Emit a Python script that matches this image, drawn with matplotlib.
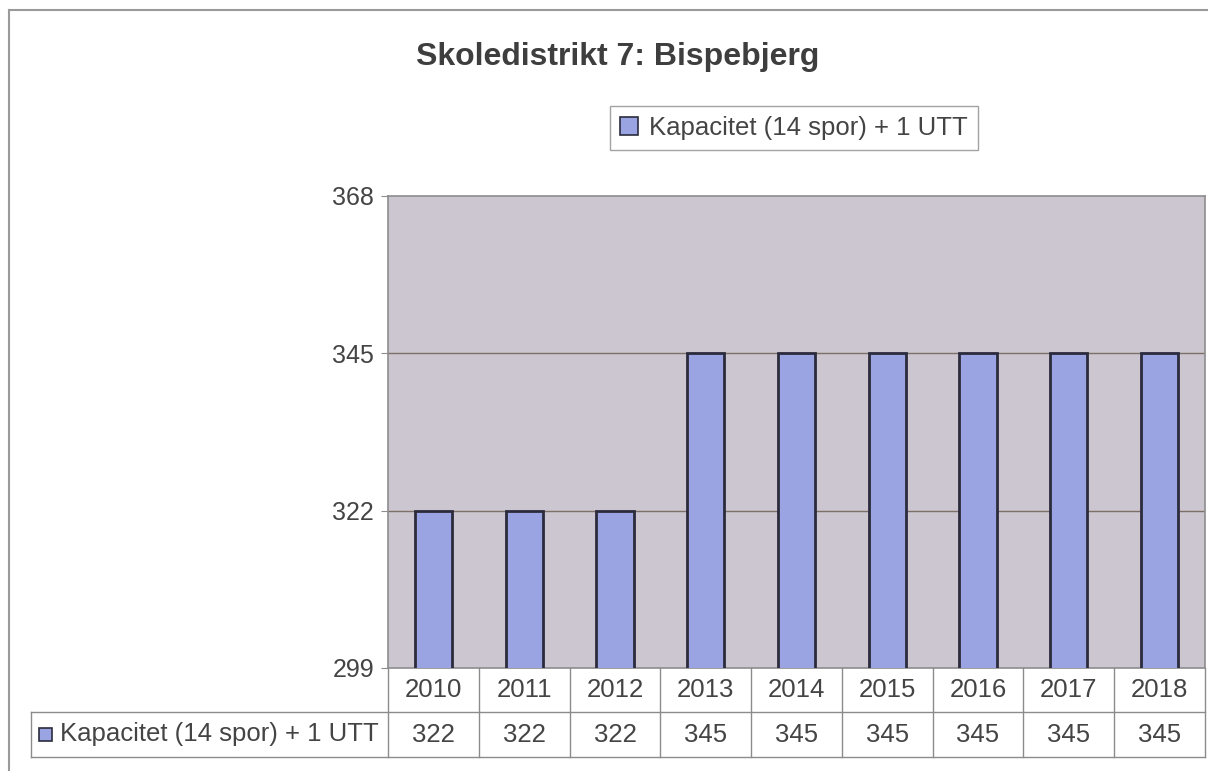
import matplotlib.pyplot as plt
from matplotlib.patches import Rectangle
from matplotlib.lines import Line2D
import matplotlib.transforms as mtransforms

plt.rcParams['font.family'] = ['Liberation Sans', 'DejaVu Sans']

years = ['2010', '2011', '2012', '2013', '2014', '2015', '2016', '2017', '2018']
kapacitet = [322, 322, 322, 345, 345, 345, 345, 345, 345]
series_name = 'Kapacitet (14 spor) + 1 UTT'
yticks = [299, 322, 345, 368]

bar_color = '#9aa4e2'
edge_color = '#2b2b3d'
bg_color = '#cbc6cf'
text_color = '#444444'
line_gray = '#8c8c8c'
fs = 18.5

fig = plt.figure(figsize=(12.08, 7.71), dpi=100)
ax = fig.add_axes([388 / 1208, 1 - 668 / 771, (1205 - 388) / 1208, (668 - 196) / 771])
ax.set_facecolor(bg_color)

x = range(len(years))
ax.bar(x, kapacitet, width=0.41, color=bar_color, edgecolor=edge_color, linewidth=2, zorder=3,
       label=series_name)

ax.set_xlim(-0.5, len(years) - 0.5)
ax.set_ylim(yticks[0], yticks[-1])
ax.set_yticks(yticks)
ax.set_xticks([])
ax.tick_params(axis='y', length=5, color=line_gray, labelsize=18, labelcolor=text_color, pad=5)
for g in yticks[1:-1]:
    ax.axhline(g, color='#7d7068', linewidth=1, zorder=1)
for side in ['top', 'right', 'left', 'bottom']:
    ax.spines[side].set_color(line_gray)
    ax.spines[side].set_linewidth(1.2)

# data table under the chart
trans = mtransforms.blended_transform_factory(ax.transData, ax.transAxes)
row1 = -44 / 472
row2 = -89 / 472
for i in range(len(years) + 1):
    ax.add_line(Line2D([i - 0.5, i - 0.5], [0, row2], transform=trans, color=line_gray,
                       linewidth=1, clip_on=False))
ax.add_line(Line2D([-0.437, 1], [row1, row1], transform=ax.transAxes, color=line_gray,
                   linewidth=1, clip_on=False))
ax.add_line(Line2D([-0.437, 1], [row2, row2], transform=ax.transAxes, color=line_gray,
                   linewidth=1, clip_on=False))
ax.add_line(Line2D([-0.437, -0.437], [row1, row2], transform=ax.transAxes, color=line_gray,
                   linewidth=1, clip_on=False))
for i, (yr, v) in enumerate(zip(years, kapacitet)):
    ax.text(i, row1 / 2, yr, transform=trans, ha='center', va='center', fontsize=fs,
            color=text_color)
    ax.text(i, (row1 + row2) / 2, str(v), transform=trans, ha='center', va='center',
            fontsize=fs, color=text_color)
ax.add_patch(Rectangle((-0.427, (row1 + row2) / 2 - 0.0138), 0.0159, 0.0276,
                       transform=ax.transAxes, facecolor=bar_color, edgecolor=edge_color,
                       linewidth=1.2, clip_on=False))
ax.text(-0.402, (row1 + row2) / 2, series_name, transform=ax.transAxes, ha='left',
        va='center', fontsize=fs, color=text_color)

# title and legend
fig.text(618 / 1208, 1 - 57 / 771, 'Skoledistrikt 7: Bispebjerg', ha='center', va='center',
         fontsize=23, fontweight='bold', color='#3e3e3e')
leg = fig.legend(loc='center', bbox_to_anchor=(794 / 1208, 1 - 128 / 771), fontsize=fs,
                 frameon=True, fancybox=False, handlelength=0.7, handleheight=0.7,
                 handletextpad=0.4, borderpad=0.4, borderaxespad=0, labelcolor=text_color)
leg.get_frame().set_edgecolor(line_gray)
leg.get_frame().set_linewidth(1)
for h in leg.legend_handles:
    h.set_linewidth(1.2)

# outer frame
fig.add_artist(Line2D([9 / 1208, 9 / 1208], [0, 1 - 10 / 771], transform=fig.transFigure,
                      color='#9a9a9a', linewidth=1.5))
fig.add_artist(Line2D([9 / 1208, 1], [1 - 10 / 771, 1 - 10 / 771], transform=fig.transFigure,
                      color='#9a9a9a', linewidth=1.5))

fig.savefig('out.png', dpi=100)
